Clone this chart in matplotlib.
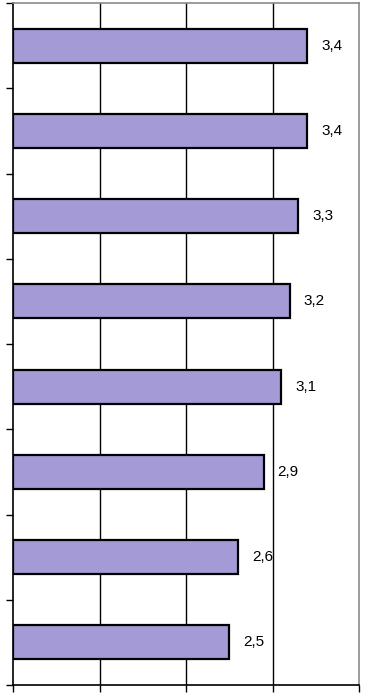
import numpy as np
import matplotlib
matplotlib.use("Agg")
import matplotlib.pyplot as plt

# values top to bottom
values = [3.4, 3.4, 3.3, 3.2, 3.1, 2.9, 2.6, 2.5]
labels = ["3,4", "3,4", "3,3", "3,2", "3,1", "2,9", "2,6", "2,5"]

W, H = 369, 698
fig = plt.figure(figsize=(W / 100, H / 100), dpi=100)
ax = fig.add_axes([13 / W, (H - 685) / H, (359 - 13) / W, (685 - 3) / H])

n = len(values)
ypos = np.arange(n)[::-1]
ax.barh(ypos, values, height=0.4, color="#A39AD6", edgecolor="black",
        linewidth=1.6, zorder=3)

for y, v, lab in zip(ypos, values, labels):
    ax.annotate(lab, (v, y), xytext=(10, 0), textcoords="offset points",
                va="center", ha="left", fontsize=11,
                family="Liberation Sans", zorder=4)

ax.set_xlim(0, 4)
ax.set_ylim(-0.5, n - 0.5)
ax.set_xticks([0, 1, 2, 3, 4])
ax.set_yticks(np.arange(n + 1) - 0.5)
ax.set_xticklabels([])
ax.set_yticklabels([])
ax.tick_params(axis="x", direction="out", length=5, width=1, color="black")
ax.tick_params(axis="y", direction="out", length=5, width=1, color="black")

for x in [1, 2, 3]:
    ax.axvline(x, color="black", linewidth=1, zorder=1)

ax.spines["left"].set_color("black")
ax.spines["bottom"].set_color("black")
ax.spines["top"].set_color("#8a8a8a")
ax.spines["right"].set_color("#8a8a8a")
for s in ax.spines.values():
    s.set_linewidth(1.2)

fig.savefig("out.png", dpi=100)
